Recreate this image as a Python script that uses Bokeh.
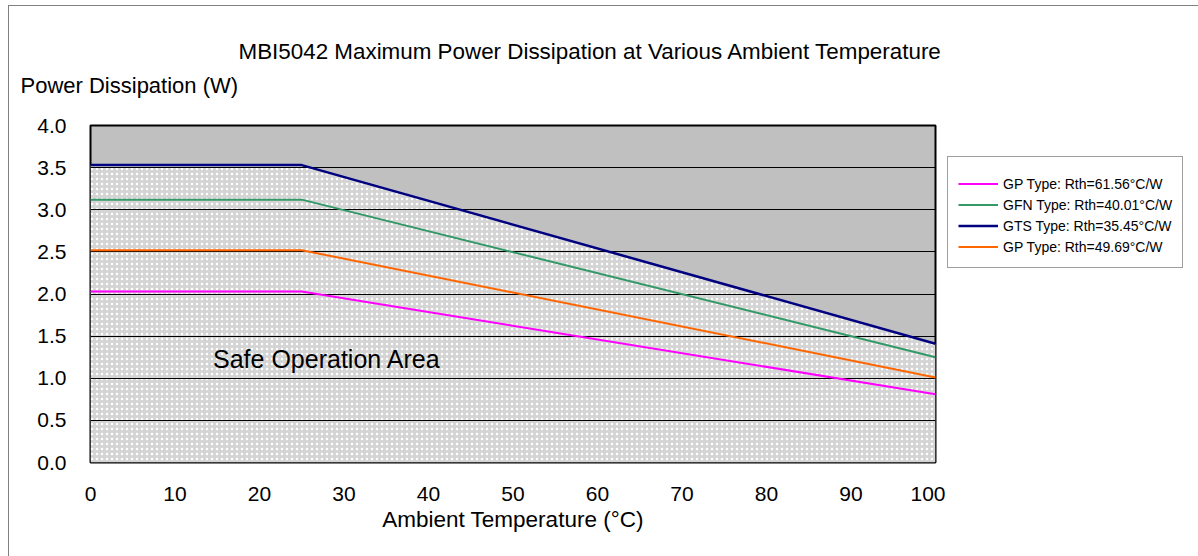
from bokeh.plotting import figure
from bokeh.layouts import column, row
from bokeh.models import Range1d, Legend, LegendItem, Label, FixedTicker, PrintfTickFormatter
from bokeh.embed import file_html
from bokeh.resources import INLINE

# ---- data ----
temps = [0, 25, 100]
gp_61 = [2.03, 2.03, 0.81]
gfn_40 = [3.12, 3.12, 1.25]
gts_35 = [3.53, 3.53, 1.41]
gp_49 = [2.52, 2.52, 1.01]
series = [gp_61, gfn_40, gts_35, gp_49]
series_labels = ["GP Type: Rth=61.56°C/W", "GFN Type: Rth=40.01°C/W",
                 "GTS Type: Rth=35.45°C/W", "GP Type: Rth=49.69°C/W"]
series_colors = ["#FF00FF", "#339966", "#000080", "#FF6600"]
series_widths = [2, 2, 2.5, 2]
x_ticks = [0, 10, 20, 30, 40, 50, 60, 70, 80, 90, 100]
y_ticks = [0.0, 0.5, 1.0, 1.5, 2.0, 2.5, 3.0, 3.5, 4.0]
title_text = "MBI5042 Maximum Power Dissipation at Various Ambient Temperature"
y_title = "Power Dissipation (W)"
x_title = "Ambient Temperature (°C)"
area_text = "Safe Operation Area"

FONT = "Liberation Sans"

# ---------- header (title + y-axis title) ----------
TOP_W, TOP_H = 1189, 100
top = figure(width=TOP_W, height=TOP_H, output_backend="svg", toolbar_location=None,
             x_range=Range1d(0, TOP_W), y_range=Range1d(0, TOP_H),
             x_axis_type=None, y_axis_type=None, min_border=0)
top.outline_line_color = None
top.grid.visible = False
top.background_fill_color = "white"
top.border_fill_color = "white"
top.add_layout(Label(x=229, y=TOP_H - 44.7, text=title_text, text_font=FONT,
                     text_font_size="22.4px", text_color="black",
                     text_baseline="middle", text_align="left"))
top.add_layout(Label(x=11, y=TOP_H - 79, text=y_title, text_font=FONT,
                     text_font_size="22px", text_color="black",
                     text_baseline="middle", text_align="left"))

# ---------- main chart ----------
MAIN_H = 556 - 6 - TOP_H
FRAME_TOP = 19
p = figure(width=936, height=MAIN_H, output_backend="svg", toolbar_location=None,
           x_range=Range1d(0, 100), y_range=Range1d(0, 4),
           min_border_left=81, min_border_right=10, min_border_top=FRAME_TOP,
           min_border_bottom=MAIN_H - FRAME_TOP - 337)
p.background_fill_color = "#c0c0c0"
p.border_fill_color = "white"
p.outline_line_color = "black"
p.outline_line_width = 2

p.xgrid.visible = False
p.ygrid.ticker = FixedTicker(ticks=y_ticks)
p.ygrid.grid_line_color = "black"
p.ygrid.grid_line_width = 1

for ax in (p.xaxis[0], p.yaxis[0]):
    ax.axis_line_color = None
    ax.major_tick_line_color = None
    ax.minor_tick_line_color = None
    ax.major_label_text_font = FONT
    ax.major_label_text_font_size = "21px"
    ax.major_label_text_color = "black"

p.xaxis.ticker = FixedTicker(ticks=x_ticks)
p.xaxis.major_label_standoff = 18
p.xaxis.axis_label = x_title
p.xaxis.axis_label_text_font = FONT
p.xaxis.axis_label_text_font_size = "22.5px"
p.xaxis.axis_label_text_font_style = "normal"
p.xaxis.axis_label_text_color = "black"
p.xaxis.axis_label_standoff = 3

p.yaxis.ticker = FixedTicker(ticks=y_ticks)
p.yaxis.formatter = PrintfTickFormatter(format="%.1f")
p.yaxis.major_label_standoff = 18

# safe operation area (hatched)
safe = p.varea(x=temps, y1=[0] * len(temps), y2=gts_35, fill_color="#d4d4d4",
               hatch_pattern="dot", hatch_color="white", hatch_scale=5, hatch_weight=1)
safe.level = "image"

for ys, col, w in zip(series, series_colors, series_widths):
    p.line(temps, ys, line_color=col, line_width=w)

p.add_layout(Label(x=14.5, y=1.23, text=area_text, text_font=FONT,
                   text_font_size="25px", text_color="black",
                   text_baseline="middle", text_align="left"))

# ---------- legend panel ----------
LEG_W = 1198 - 9 - 936
lg = figure(width=LEG_W, height=MAIN_H, output_backend="svg", toolbar_location=None,
            x_range=Range1d(1000, 1001), y_range=Range1d(1000, 1001),
            x_axis_type=None, y_axis_type=None, min_border=0)
lg.outline_line_color = None
lg.grid.visible = False
lg.background_fill_color = "white"
lg.border_fill_color = "white"
leg_renderers = [lg.line(temps, ys, line_color=col, line_width=w)
                 for ys, col, w in zip(series, series_colors, series_widths)]
legend = Legend(items=[LegendItem(label=l, renderers=[r]) for l, r in zip(series_labels, leg_renderers)],
                location=(2, 194))
legend.title = " "
legend.title_text_font_size = "6px"
legend.title_standoff = 0
legend.label_text_font = FONT
legend.label_text_font_size = "14px"
legend.label_text_color = "black"
legend.glyph_width = 40
legend.glyph_height = 21
legend.label_height = 21
legend.label_standoff = 5
legend.spacing = 0
legend.padding = 10
legend.margin = 0
legend.border_line_color = "#404040"
legend.border_line_width = 1
legend.background_fill_color = "white"
legend.background_fill_alpha = 1
lg.add_layout(legend, "center")

layout = column(top, row(p, lg, spacing=0), spacing=0,
                styles={"margin-left": "8px", "margin-top": "5px",
                        "border-left": "1px solid #808080", "border-top": "1px solid #808080"})

open("out.html", "w").write(file_html(layout, INLINE))
